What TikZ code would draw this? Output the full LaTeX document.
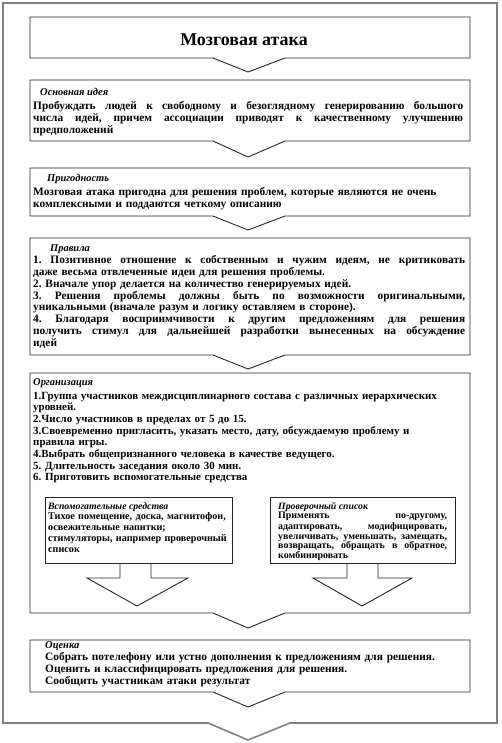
\documentclass[tikz,border=0pt]{standalone}
\usepackage{fontspec}
\setmainfont{Liberation Serif}
\newcommand{\jline}[1]{\makebox[\hsize][s]{\spaceskip=0pt\xspaceskip=0pt\frenchspacing #1}}
\begin{document}
\frenchspacing
\begin{tikzpicture}[x=1bp,y=-1bp,
  frame/.style={draw=black!85, line width=0.9bp},
  outer/.style={draw=black!50, line width=1.6bp},
  head/.style={anchor=base west, inner sep=0pt, font=\fontsize{10.5}{12}\selectfont\bfseries\itshape},
  smallhead/.style={anchor=base west, inner sep=0pt, font=\fontsize{9.8}{10}\selectfont\bfseries\itshape},
  body/.style={anchor=north west, inner sep=0pt, text width=#1, align=left, font=\fontsize{11.4}{12}\selectfont\bfseries},
  orgbody/.style={anchor=north west, inner sep=0pt, text width=#1, align=left, font=\fontsize{11}{11.7}\selectfont\bfseries},
  smallbody/.style={anchor=north west, inner sep=0pt, text width=#1, align=left, font=\fontsize{10.2}{10.8}\selectfont\bfseries},
  ]
\useasboundingbox (0,0) rectangle (502,743);
% outer frame
\draw[outer] (3,3) -- (497,3) -- (497,723) -- (290,723) -- (248,740) -- (208,723) -- (3,723) -- cycle;
% boxes
\draw[frame] (30,17) -- (470,17) -- (470,58) -- (285,58) -- (248,72) -- (213,58) -- (30,58) -- cycle;
\draw[frame] (30,80) -- (470,80) -- (470,141) -- (285,141) -- (248,157) -- (213,141) -- (30,141) -- cycle;
\draw[frame] (30,168) -- (470,168) -- (470,216) -- (285,216) -- (248,230) -- (213,216) -- (30,216) -- cycle;
\draw[frame] (30,238) -- (470,238) -- (470,355) -- (285,355) -- (248,369) -- (213,355) -- (30,355) -- cycle;
\draw[frame] (30,373) -- (470,373) -- (470,613) -- (285,613) -- (248,628) -- (213,613) -- (30,613) -- cycle;
\draw[frame] (30,640) -- (470,640) -- (470,692) -- (285,692) -- (248,707) -- (213,692) -- (30,692) -- cycle;
% inner boxes and block arrows
\draw[frame] (45,497) rectangle (232,563);
\draw[frame] (120,563) -- (120,578) -- (87,578) -- (137,606) -- (188,578) -- (151,578) -- (151,563);
\draw[frame] (270,497) rectangle (455,563);
\draw[frame] (347,563) -- (347,578) -- (313,578) -- (362,606) -- (412,578) -- (378,578) -- (378,563);
% title
\node[anchor=base, inner sep=0pt, font=\fontsize{18}{20}\selectfont\bfseries] (title) at (244,46) {Мозговая атака};
% box 2
\node[head] (h2) at (40,95) {Основная идея};
\node[body=430bp] (b2) at (33,100.6) {\strut\jline{Пробуждать людей к свободному и безоглядному генерированию большого}\\
\jline{числа идей, причем ассоциации приводят к качественному улучшению}\\
предположений};
% box 3
\node[head] (h3) at (47,181) {Пригодность};
\node[body=430bp] (b3) at (33,186.6) {\strut Мозговая атака пригодна для решения проблем, которые являются не очень\\
комплексными и поддаются четкому описанию};
% box 4
\node[head] (h4) at (50,251) {Правила};
\node[body=432bp] (b4) at (33,254.6) {\strut\jline{1. Позитивное отношение к собственным и чужим идеям, не критиковать}\\
даже весьма отвлеченные идеи для решения проблемы.\\
2. Вначале упор делается на количество генерируемых идей.\\
\jline{3. Решения проблемы должны быть по возможности оригинальными,}\\
уникальными (вначале разум и логику оставляем в стороне).\\
\jline{4. Благодаря восприимчивости к другим предложениям для решения}\\
\jline{получить стимул для дальнейшей разработки вынесенных на обсуждение}\\
идей};
% box 5
\node[head] (h5) at (33,385) {Организация};
\node[orgbody=437bp] (b5) at (33,390.8) {\strut 1.Группа участников междисциплинарного состава с различных иерархических\\
уровней.\\
2.Число участников в пределах от 5 до 15.\\
3.Своевременно пригласить, указать место, дату, обсуждаемую проблему и\\
правила игры.\\
4.Выбрать общепризнанного человека в качестве ведущего.\\
5. Длительность заседания около 30 мин.\\
6. Приготовить вспомогательные средства};
% inner left
\node[smallhead] (hl) at (48,509) {Вспомогательные средства};
\node[smallbody=182bp] (bl) at (48,512) {\strut Тихое помещение, доска, магнитофон,\\
освежительные напитки;\\
стимуляторы, например проверочный\\
список};
% inner right
\node[smallhead, font=\fontsize{9.8}{10}\selectfont\bfseries\itshape] (hr) at (278,509) {Проверочный список};
\node[smallbody=169bp, font=\fontsize{10}{9.8}\selectfont\bfseries] (br) at (278,511.5) {\strut\jline{Применять по-другому,}\\
\jline{адаптировать, модифицировать,}\\
\jline{увеличивать, уменьшать, замещать,}\\
\jline{возвращать, обращать в обратное,}\\
комбинировать};
% box 6
\node[head] (h6) at (45,648) {Оценка};
\node[body=420bp] (b6) at (45,651.6) {\strut Собрать потелефону или устно дополнения к предложениям для решения.\\
Оценить и классифицировать предложения для решения.\\
Сообщить участникам атаки результат};
\end{tikzpicture}
\end{document}
